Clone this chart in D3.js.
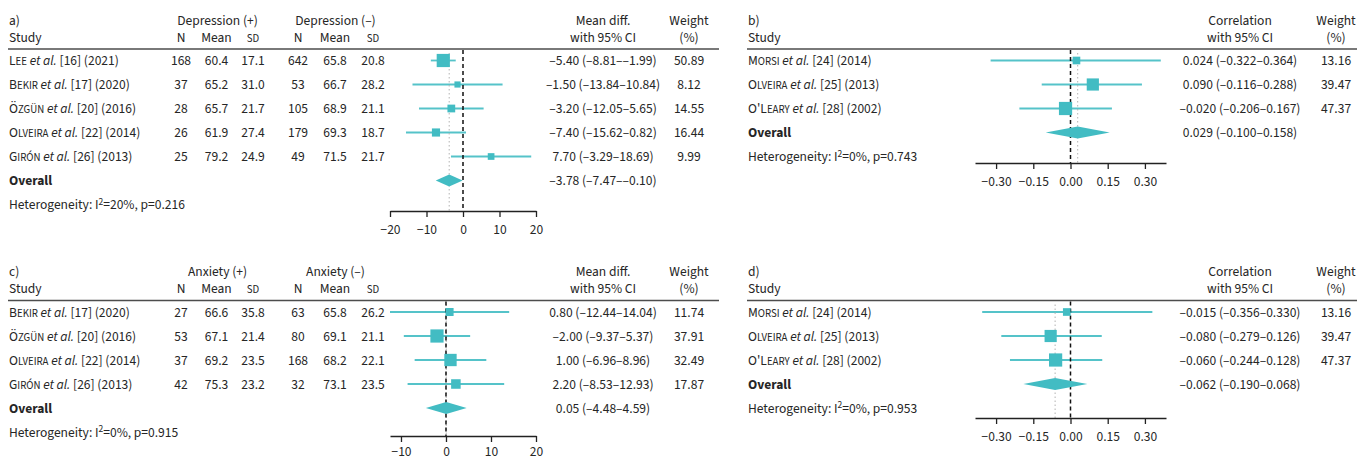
<!DOCTYPE html>
<html>
<head>
<meta charset="utf-8">
<script src="https://cdn.jsdelivr.net/npm/d3@7"></script>
<style>
  body { margin: 0; background: #fff; }
  svg { display: block; }
  text { font-family: "Source Sans 3", "Source Sans Pro", Roboto, "Noto Sans", sans-serif; font-size: 13.5px; fill: #262626; }
</style>
</head>
<body>
<svg id="chart" width="1357" height="461"></svg>
<script>
// ---------- Panel a: Depression (mean difference) ----------
const studyA  = ["Lee", "Bekir", "Özgün", "Olveira", "Girón"];
const refA    = [16, 17, 20, 22, 26];
const yearA   = [2021, 2020, 2016, 2014, 2013];
const nPosA   = [168, 37, 28, 26, 25];
const meanPosA= [60.4, 65.2, 65.7, 61.9, 79.2];
const sdPosA  = [17.1, 31.0, 21.7, 27.4, 24.9];
const nNegA   = [642, 53, 105, 179, 49];
const meanNegA= [65.8, 66.7, 68.9, 69.3, 71.5];
const sdNegA  = [20.8, 28.2, 21.1, 18.7, 21.7];
const estA    = [-5.40, -1.50, -3.20, -7.40, 7.70];
const loA     = [-8.81, -13.84, -12.05, -15.62, -3.29];
const hiA     = [-1.99, 10.84, 5.65, 0.82, 18.69];
const weightA = [50.89, 8.12, 14.55, 16.44, 9.99];
const overallA= [-3.78, -7.47, -0.10];
const hetA    = ["20%", "0.216"];
const ticksA  = [-20, -10, 0, 10, 20];
const domainA = [-20, 20];

// ---------- Panel b: Depression (correlation) ----------
const studyB  = ["Morsi", "Olveira", "O'Leary"];
const refB    = [24, 25, 28];
const yearB   = [2014, 2013, 2002];
const estB    = [0.024, 0.090, -0.020];
const loB     = [-0.322, -0.116, -0.206];
const hiB     = [0.364, 0.288, 0.167];
const weightB = [13.16, 39.47, 47.37];
const overallB= [0.029, -0.100, 0.158];
const hetB    = ["0%", "0.743"];
const ticksB  = [-0.30, -0.15, 0, 0.15, 0.30];
const domainB = [-0.385, 0.385];

// ---------- Panel c: Anxiety (mean difference) ----------
const studyC  = ["Bekir", "Özgün", "Olveira", "Girón"];
const refC    = [17, 20, 22, 26];
const yearC   = [2020, 2016, 2014, 2013];
const nPosC   = [27, 53, 37, 42];
const meanPosC= [66.6, 67.1, 69.2, 75.3];
const sdPosC  = [35.8, 21.4, 23.5, 23.2];
const nNegC   = [63, 80, 168, 32];
const meanNegC= [65.8, 69.1, 68.2, 73.1];
const sdNegC  = [26.2, 21.1, 22.1, 23.5];
const estC    = [0.80, -2.00, 1.00, 2.20];
const loC     = [-12.44, -9.37, -6.96, -8.53];
const hiC     = [14.04, 5.37, 8.96, 12.93];
const weightC = [11.74, 37.91, 32.49, 17.87];
const overallC= [0.05, -4.48, 4.59];
const hetC    = ["0%", "0.915"];
const ticksC  = [-10, 0, 10, 20];
const domainC = [-12.44, 20];

// ---------- Panel d: Anxiety (correlation) ----------
const studyD  = ["Morsi", "Olveira", "O'Leary"];
const refD    = [24, 25, 28];
const yearD   = [2014, 2013, 2002];
const estD    = [-0.015, -0.080, -0.060];
const loD     = [-0.356, -0.279, -0.244];
const hiD     = [0.330, 0.126, 0.128];
const weightD = [13.16, 39.47, 47.37];
const overallD= [-0.062, -0.190, 0.068];
const hetD    = ["0%", "0.953"];
const ticksD  = [-0.30, -0.15, 0, 0.15, 0.30];
const domainD = [-0.385, 0.385];

// ---------- layout ----------
const TEAL = "#42bcc3";
const SMALL = "10.8px";
const LAYOUT_MD = { xName: 9, range: [390, 536], stat: 603, weight: 689, ruleEnd: 719,
                    cols: [181, 216.5, 253, 298, 335, 373], groups: [217.5, 335.5], statHead: "Mean diff." };
const LAYOUT_R  = { xName: 748, range: [975, 1166], stat: 1240, weight: 1336, ruleEnd: 1357, statHead: "Correlation" };

const panels = [
  { label: "a)", type: "md", y0: 0, axisY: 211, pad: 7.5, groups: ["Depression (+)", "Depression (–)"],
    study: studyA, ref: refA, year: yearA, nPos: nPosA, meanPos: meanPosA, sdPos: sdPosA,
    nNeg: nNegA, meanNeg: meanNegA, sdNeg: sdNegA, est: estA, lo: loA, hi: hiA, w: weightA,
    overall: overallA, het: hetA, ticks: ticksA, domain: domainA, dec: 2, tickFmt: d3.format("d") },
  { label: "b)", type: "r", y0: 0, axisY: 163, pad: 7.5,
    study: studyB, ref: refB, year: yearB, est: estB, lo: loB, hi: hiB, w: weightB,
    overall: overallB, het: hetB, ticks: ticksB, domain: domainB, dec: 3, tickFmt: d3.format(".2f") },
  { label: "c)", type: "md", y0: 251.5, axisY: 436, pad: 4.5, groups: ["Anxiety (+)", "Anxiety (–)"],
    study: studyC, ref: refC, year: yearC, nPos: nPosC, meanPos: meanPosC, sdPos: sdPosC,
    nNeg: nNegC, meanNeg: meanNegC, sdNeg: sdNegC, est: estC, lo: loC, hi: hiC, w: weightC,
    overall: overallC, het: hetC, ticks: ticksC, domain: domainC, dec: 2, tickFmt: d3.format("d") },
  { label: "d)", type: "r", y0: 251.5, axisY: 418, pad: 7,
    study: studyD, ref: refD, year: yearD, est: estD, lo: loD, hi: hiD, w: weightD,
    overall: overallD, het: hetD, ticks: ticksD, domain: domainD, dec: 3, tickFmt: d3.format(".2f") }
];

const svg = d3.select("#chart");

const fmtNum = (v, d) => v.toFixed(d).replace("-", "–");

function txt(g, x, y, s, anchor) {
  return g.append("text").attr("x", x).attr("y", y).attr("dy", "0.36em")
    .attr("text-anchor", anchor || "start").text(s);
}

function addName(t, name, ref, year) {
  // small caps: capitals/punctuation at full size, lowercase letters as small capitals
  let runs = [];
  for (const ch of name) {
    const small = ch !== ch.toUpperCase();
    const c = small ? ch.toUpperCase() : ch;
    if (runs.length && runs[runs.length - 1].small === small) runs[runs.length - 1].s += c;
    else runs.push({ small, s: c });
  }
  runs.forEach(r => {
    const sp = t.append("tspan").text(r.s);
    if (r.small) sp.style("font-size", SMALL);
  });
  t.append("tspan").text(" ");
  t.append("tspan").style("font-style", "italic").text("et al.");
  t.append("tspan").text(` [${ref}] (${year})`);
}

function drawPanel(p) {
  const L = p.type === "md" ? LAYOUT_MD : LAYOUT_R;
  const g = svg.append("g");
  const y0 = p.y0;
  const rowY = i => y0 + 60.5 + 24 * i;
  const x = d3.scaleLinear().domain(p.domain).range(L.range);
  const size = d3.scaleSqrt().domain([0, d3.max(p.w)]).range([1.5, 13.2]);
  const n = p.study.length;
  const h1 = y0 + 20, h2 = y0 + 37;

  // headers
  txt(g, L.xName, h1, p.label);
  txt(g, L.xName, h2, "Study");
  txt(g, L.stat, h1, L.statHead, "middle");
  txt(g, L.stat, h2, "with 95% CI", "middle");
  txt(g, L.weight, h1, "Weight", "middle");
  txt(g, L.weight, h2, "(%)", "middle");
  if (p.type === "md") {
    txt(g, L.groups[0], h1, p.groups[0], "middle");
    txt(g, L.groups[1], h1, p.groups[1], "middle");
    ["N", "Mean", "SD", "N", "Mean", "SD"].forEach((h, k) => {
      const t = txt(g, L.cols[k], h2, "", "middle");
      if (h === "SD") t.append("tspan").style("font-size", SMALL).text("SD");
      else t.text(h);
    });
  }
  g.append("line").attr("x1", L.xName - 1).attr("x2", L.ruleEnd)
    .attr("y1", y0 + 49).attr("y2", y0 + 49)
    .attr("stroke", "#4d4d4d").attr("stroke-width", 1.6);

  // rows
  for (let i = 0; i < n; i++) {
    const y = rowY(i);
    const t = txt(g, L.xName, y, "");
    addName(t, p.study[i], p.ref[i], p.year[i]);
    if (p.type === "md") {
      const vals = [String(p.nPos[i]), p.meanPos[i].toFixed(1), p.sdPos[i].toFixed(1),
                    String(p.nNeg[i]), p.meanNeg[i].toFixed(1), p.sdNeg[i].toFixed(1)];
      vals.forEach((v, k) => txt(g, L.cols[k], y, v, "middle"));
    }
    txt(g, L.stat, y, `${fmtNum(p.est[i], p.dec)} (${fmtNum(p.lo[i], p.dec)}–${fmtNum(p.hi[i], p.dec)})`, "middle");
    txt(g, L.weight, y, p.w[i].toFixed(2), "middle");
  }
  const yo = rowY(n);
  const overallT = txt(g, L.xName, yo, "Overall");
  overallT.style("font-weight", "bold");
  const o = p.overall;
  txt(g, L.stat, yo, `${fmtNum(o[0], p.dec)} (${fmtNum(o[1], p.dec)}–${fmtNum(o[2], p.dec)})`, "middle");
  const ht = txt(g, L.xName, rowY(n + 1), "Heterogeneity: I");
  ht.append("tspan").attr("dy", "-4.5").style("font-size", "9.5px").text("2");
  ht.append("tspan").attr("dy", "4.5").text(`=${p.het[0]}, p=${p.het[1]}`);

  // confidence interval lines
  g.selectAll(null).data(d3.range(n)).join("line")
    .attr("x1", i => x(p.lo[i])).attr("x2", i => x(p.hi[i]))
    .attr("y1", i => rowY(i)).attr("y2", i => rowY(i))
    .attr("stroke", TEAL).attr("stroke-width", 1.8).attr("stroke-opacity", 0.9);

  // reference lines
  g.append("line").attr("x1", x(o[0])).attr("x2", x(o[0]))
    .attr("y1", y0 + 53).attr("y2", p.axisY)
    .attr("stroke", "#b3b3b3").attr("stroke-width", 1).attr("stroke-dasharray", "1.5,2.5");
  g.append("line").attr("x1", x(0)).attr("x2", x(0))
    .attr("y1", y0 + 50).attr("y2", p.axisY)
    .attr("stroke", "#111").attr("stroke-width", 1.5).attr("stroke-dasharray", "4,3");

  // squares
  g.selectAll(null).data(d3.range(n)).join("rect")
    .attr("x", i => x(p.est[i]) - size(p.w[i]) / 2)
    .attr("y", i => rowY(i) - size(p.w[i]) / 2)
    .attr("width", i => size(p.w[i])).attr("height", i => size(p.w[i]))
    .attr("fill", TEAL);

  // diamond
  g.append("path")
    .attr("d", `M${x(o[1])},${yo} L${x(o[0])},${yo - 6} L${x(o[2])},${yo} L${x(o[0])},${yo + 6} Z`)
    .attr("fill", TEAL);

  // axis
  const ax = g.append("g").attr("transform", `translate(0,${p.axisY})`)
    .call(d3.axisBottom(x).tickValues(p.ticks).tickFormat(p.tickFmt)
      .tickSize(6).tickSizeOuter(0).tickPadding(p.pad));
  ax.attr("font-size", null).attr("font-family", null);
  ax.select(".domain").attr("stroke", "#222").attr("stroke-width", 1.3);
  ax.selectAll(".tick line").attr("stroke", "#222").attr("stroke-width", 1.3);
  ax.selectAll(".tick text").attr("fill", "#262626");
}

panels.forEach(drawPanel);
</script>
</body>
</html>
